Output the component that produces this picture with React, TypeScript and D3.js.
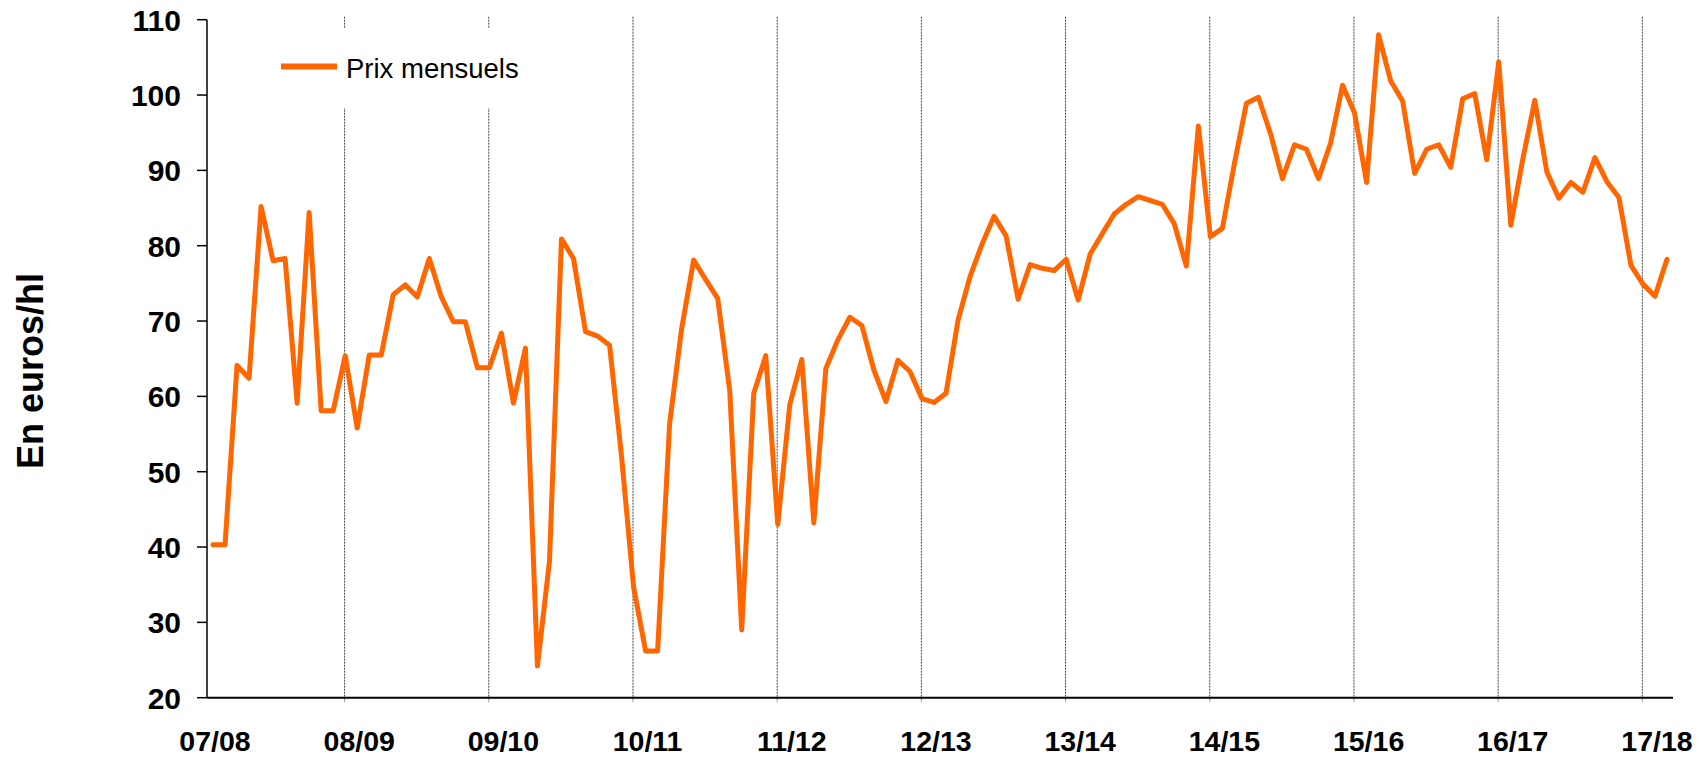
import React from "react";
import * as d3 from "d3";

const seasons = ["07/08", "08/09", "09/10", "10/11", "11/12", "12/13", "13/14", "14/15", "15/16", "16/17", "17/18"];
const yTicks = [20, 30, 40, 50, 60, 70, 80, 90, 100, 110];
const seriesName = "Prix mensuels";
const yTitle = "En euros/hl";
const prices = [
  40.3, 40.3, 64.1, 62.4, 85.2, 78.0, 78.3, 59.1, 84.4, 58.1, 58.1, 65.4,
  55.8, 65.5, 65.5, 73.5, 74.8, 73.2, 78.3, 73.2, 69.9, 69.9, 63.8, 63.8,
  68.4, 59.1, 66.4, 24.2, 38.1, 80.9, 78.3, 68.6, 68.0, 66.8, 52.0, 34.7,
  26.2, 26.2, 56.4, 69.0, 78.1, 75.5, 73.0, 60.8, 29.0, 60.4, 65.4, 43.0,
  58.9, 64.9, 43.2, 63.7, 67.5, 70.5, 69.4, 63.5, 59.3, 64.8, 63.3, 59.7,
  59.2, 60.4, 70.1, 75.9, 80.2, 83.9, 81.3, 72.9, 77.5, 77.0, 76.7, 78.2,
  72.8, 78.9, 81.6, 84.2, 85.5, 86.5, 86.0, 85.5, 82.9, 77.3, 95.9, 81.2,
  82.3, 90.9, 98.9, 99.7, 94.9, 88.9, 93.4, 92.8, 88.9, 93.6, 101.3, 97.6,
  88.4, 108.0, 101.9, 99.2, 89.6, 92.8, 93.4, 90.4, 99.5, 100.2, 91.4, 104.4,
  82.7, 91.5, 99.3, 89.8, 86.3, 88.4, 87.1, 91.7, 88.5, 86.4, 77.4, 74.9,
  73.3, 78.2,
];

const W = 1708;
const H = 757;
const left = 207;
const right = 1673;
const top = 19.7;
const bottom = 697.7;
const ORANGE = "#FF6600";
const FONT = "'Liberation Sans', Arial, sans-serif";

export default function App() {
  const n = prices.length;
  const x = d3.scaleLinear().domain([-0.5, n - 0.5]).range([left, right]);
  const y = d3.scaleLinear().domain([20, 110]).range([bottom, top]);
  const line = d3
    .line<number>()
    .x((_, i) => x(i))
    .y((d) => y(d));

  const gridIdx = seasons.slice(1).map((_, k) => 12 * (k + 1) - 1.05);

  return (
    <svg
      width={W}
      height={H}
      style={{ position: "absolute", left: 0, top: 0, background: "#fff" }}
      fontFamily={FONT}
    >
      <rect x={0} y={0} width={W} height={H} fill="#fff" />
      {gridIdx.map((g, k) => (
        <line
          key={"g" + k}
          x1={x(g)}
          x2={x(g)}
          y1={top - 3}
          y2={bottom + 4}
          stroke="#444"
          strokeWidth={1}
          strokeDasharray="2,1"
        />
      ))}
      <rect x={262} y={28} width={278} height={80} fill="#fff" />
      <line x1={281} x2={337} y1={66.5} y2={66.5} stroke={ORANGE} strokeWidth={6} />
      <text x={346} y={78} fontSize={27.5} fill="#000">
        {seriesName}
      </text>

      <line x1={left} x2={left} y1={top} y2={bottom} stroke="#000" strokeWidth={1.5} />
      {yTicks.map((t) => (
        <g key={"y" + t}>
          <line x1={left - 10} x2={left} y1={y(t)} y2={y(t)} stroke="#000" strokeWidth={1.5} />
          <text
            x={181}
            y={y(t)}
            dy="0.36em"
            textAnchor="end"
            fontSize={30}
            fontWeight="bold"
            fill="#000"
          >
            {t}
          </text>
        </g>
      ))}
      <line x1={left} x2={right} y1={bottom} y2={bottom} stroke="#000" strokeWidth={2} />
      {seasons.map((s, k) => (
        <text
          key={"x" + s}
          x={x(12 * k) + 2}
          y={751}
          textAnchor="middle"
          fontSize={28.5}
          fontWeight="bold"
          fill="#000"
        >
          {s}
        </text>
      ))}
      <text
        transform={`translate(43, 371) rotate(-90)`}
        textAnchor="middle"
        fontSize={36}
        fontWeight="bold"
        fill="#000"
      >
        {yTitle}
      </text>

      <path
        d={line(prices) || ""}
        fill="none"
        stroke={ORANGE}
        strokeWidth={5}
        strokeLinejoin="round"
        strokeLinecap="round"
      />
    </svg>
  );
}
